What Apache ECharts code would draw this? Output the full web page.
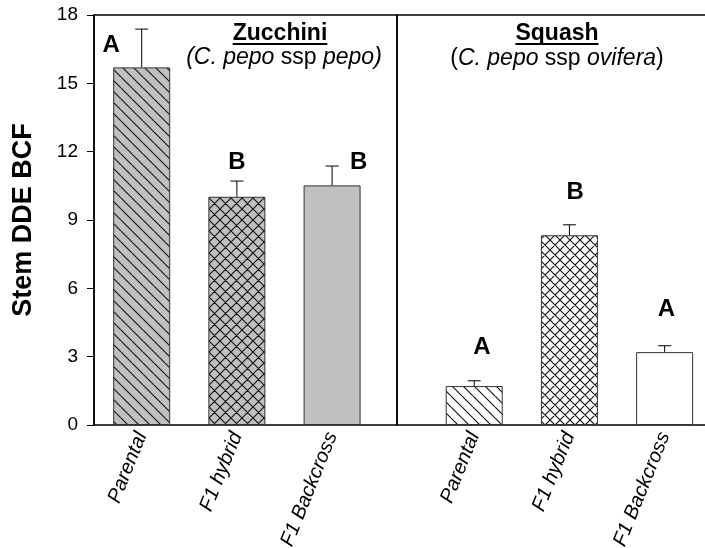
<!DOCTYPE html>
<html><head><meta charset="utf-8">
<script src="https://cdn.jsdelivr.net/npm/echarts@6/dist/echarts.min.js"></script>
<style>html,body{margin:0;padding:0;background:#fff}#c{width:705px;height:548px}</style>
</head><body><div id="c"></div>
<script>
// ---- data ----
const categories = ['Parental', 'F1 hybrid', 'F1 Backcross'];
const zucchiniMeans = [15.70, 10.02, 10.52];
const zucchiniErr = [1.68, 0.69, 0.85];
const squashMeans = [1.71, 8.33, 3.20];
const squashErr = [0.23, 0.46, 0.28];
const zucchiniLetters = ['A', 'B', 'B'];
const squashLetters = ['A', 'B', 'A'];
const yTicks = [0, 3, 6, 9, 12, 15, 18];

// ---- layout (annotation anchors in data units) ----
const zucchiniLetterAnchor = [[-0.32, 16.68], [1.0, 11.52], [2.28, 11.55]];
const squashLetterAnchor = [[0.08, 3.42], [1.06, 10.23], [2.02, 5.09]];

const FONT = 'Liberation Sans, Arial, Helvetica, sans-serif';

function hatch(bg, cross, p) {
  const c = document.createElement('canvas');
  c.width = p; c.height = p;
  const g = c.getContext('2d');
  g.fillStyle = bg; g.fillRect(0, 0, p, p);
  g.strokeStyle = '#111'; g.lineWidth = 1.1;
  g.beginPath();
  for (let k = -1; k <= 1; k++) { g.moveTo(k * p, 0); g.lineTo(k * p + p, p); }
  if (cross) for (let k = 0; k <= 2; k++) { g.moveTo(k * p, 0); g.lineTo(k * p - p, p); }
  g.stroke();
  return { image: c, repeat: 'repeat' };
}
const GRAY = '#c0c0c0';
const zucchiniFill = [hatch(GRAY, false, 11), hatch(GRAY, true, 11), GRAY];
const squashFill = [hatch('#ffffff', false, 11), hatch('#ffffff', true, 10), '#ffffff'];

function barSeries(idx, means, fills) {
  return {
    type: 'bar', xAxisIndex: idx, yAxisIndex: idx, barWidth: 57,
    data: means.map((v, i) => ({ value: [i, v], itemStyle: { color: fills[i] } })),
    itemStyle: { borderColor: '#333', borderWidth: 1 },
    z: 2
  };
}
function errSeries(idx, means, errs) {
  return {
    type: 'custom', xAxisIndex: idx, yAxisIndex: idx, z: 1,
    encode: { x: 0, y: [1, 2] },
    data: means.map((m, i) => [i, m, m + errs[i]]),
    renderItem: (params, api) => {
      const i = params.dataIndex;
      const p0 = api.coord([i, means[i]]);
      const p1 = api.coord([i, means[i] + errs[i]]);
      const hw = 6.5;
      return {
        type: 'path',
        shape: { pathData: 'M' + p0[0] + ' ' + p0[1] + 'L' + p1[0] + ' ' + p1[1] + 'M' + (p1[0] - hw) + ' ' + p1[1] + 'L' + (p1[0] + hw) + ' ' + p1[1] },
        style: { stroke: '#000', lineWidth: 1, fill: null }
      };
    }
  };
}
function letterSeries(idx, letters, anchors) {
  return {
    type: 'custom', xAxisIndex: idx, yAxisIndex: idx, z: 3,
    data: anchors.map(a => [a[0], a[1]]),
    renderItem: (params, api) => {
      const a = anchors[params.dataIndex];
      const p = api.coord([a[0], a[1]]);
      return {
        type: 'text', x: p[0], y: p[1],
        style: { text: letters[params.dataIndex], font: 'bold 24px ' + FONT, fill: '#000', textAlign: 'center', textVerticalAlign: 'middle' }
      };
    }
  };
}
function xAxis(idx, min, max) {
  return {
    type: 'value', gridIndex: idx, min: min, max: max,
    axisLine: { show: false, onZero: false }, axisTick: { show: false }, splitLine: { show: false },
    axisLabel: {
      customValues: [0, 1, 2], formatter: v => categories[Math.round(v)] || '',
      rotate: 68, margin: 8, color: '#000', fontSize: 20, fontStyle: 'italic', fontFamily: FONT
    }
  };
}

const chart = echarts.init(document.getElementById('c'), null, { renderer: 'canvas' });

function measure(text, font) {
  const c = document.createElement('canvas').getContext('2d');
  c.font = font; return c.measureText(text).width;
}
const headFont = 'bold 23px ' + FONT;
const zW = measure('Zucchini', headFont), sW = measure('Squash', headFont);
const subRich = { i: { font: 'italic 23px ' + FONT, fill: '#000' }, n: { font: '23px ' + FONT, fill: '#000' } };

chart.setOption({
  animation: false,
  backgroundColor: '#fff',
  grid: [
    { left: 94, top: 15, width: 303, height: 410, show: true, borderColor: '#000', borderWidth: 1.5, backgroundColor: 'transparent', outerBoundsMode: 'none', containLabel: false },
    { left: 397, top: 15, width: 310, height: 410, show: true, borderColor: '#000', borderWidth: 1.5, backgroundColor: 'transparent', outerBoundsMode: 'none', containLabel: false }
  ],
  xAxis: [xAxis(0, -0.501, 2.682), xAxis(1, -0.811, 2.445)],
  yAxis: [
    {
      type: 'value', gridIndex: 0, min: yTicks[0], max: yTicks[yTicks.length - 1], interval: 3,
      axisLine: { show: true, onZero: false, lineStyle: { color: '#000', width: 1.5 } },
      axisTick: { show: true, length: 7, lineStyle: { color: '#000', width: 1 } },
      splitLine: { show: false },
      axisLabel: { color: '#000', fontSize: 19, margin: 16, fontFamily: FONT },
      name: 'Stem DDE BCF', nameLocation: 'middle', nameRotate: 90, nameGap: 57,
      nameTextStyle: { fontSize: 27, fontWeight: 'bold', color: '#000', fontFamily: FONT }
    },
    { type: 'value', gridIndex: 1, min: 0, max: 18, interval: 3, show: false, axisLine: { onZero: false } }
  ],
  graphic: [
    { type: 'text', x: 280, y: 34, style: { text: 'Zucchini', font: headFont, fill: '#000', textAlign: 'center', textVerticalAlign: 'middle' } },
    { type: 'rect', shape: { x: 280 - zW / 2, y: 43, width: zW, height: 2 }, style: { fill: '#000' } },
    { type: 'text', x: 284, y: 58, style: {
      text: '{i|(C. pepo }{n|ssp }{i|pepo)}', textAlign: 'center', textVerticalAlign: 'middle', rich: subRich } },
    { type: 'text', x: 557, y: 34, style: { text: 'Squash', font: headFont, fill: '#000', textAlign: 'center', textVerticalAlign: 'middle' } },
    { type: 'rect', shape: { x: 557 - sW / 2, y: 43, width: sW, height: 2 }, style: { fill: '#000' } },
    { type: 'text', x: 557, y: 59, style: {
      text: '{n|(}{i|C. pepo }{n|ssp }{i|ovifera}{n|)}', textAlign: 'center', textVerticalAlign: 'middle', rich: subRich } }
  ],
  series: [
    errSeries(0, zucchiniMeans, zucchiniErr),
    barSeries(0, zucchiniMeans, zucchiniFill),
    letterSeries(0, zucchiniLetters, zucchiniLetterAnchor),
    errSeries(1, squashMeans, squashErr),
    barSeries(1, squashMeans, squashFill),
    letterSeries(1, squashLetters, squashLetterAnchor)
  ]
});
</script>
</body></html>
